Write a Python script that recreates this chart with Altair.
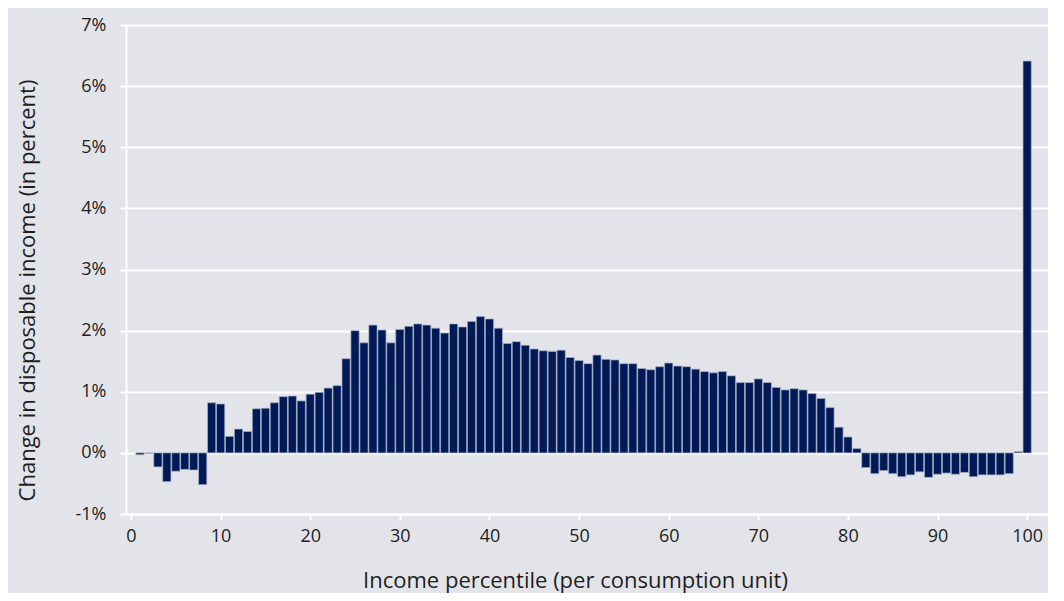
import altair as alt
import pandas as pd

percentiles = list(range(1, 101))
change_pct = [
    -0.03, -0.01, -0.23, -0.47, -0.30, -0.27, -0.28, -0.52, 0.82, 0.80,
    0.27, 0.39, 0.35, 0.72, 0.73, 0.82, 0.92, 0.93, 0.85, 0.96,
    0.99, 1.06, 1.10, 1.54, 2.00, 1.80, 2.09, 2.01, 1.80, 2.02,
    2.07, 2.11, 2.09, 2.04, 1.96, 2.11, 2.06, 2.15, 2.23, 2.19,
    2.04, 1.79, 1.82, 1.76, 1.70, 1.67, 1.66, 1.68, 1.56, 1.51,
    1.46, 1.60, 1.53, 1.52, 1.46, 1.46, 1.38, 1.36, 1.41, 1.47,
    1.42, 1.41, 1.37, 1.33, 1.31, 1.33, 1.26, 1.15, 1.15, 1.21,
    1.15, 1.07, 1.03, 1.05, 1.03, 0.97, 0.89, 0.74, 0.42, 0.26,
    0.07, -0.24, -0.34, -0.29, -0.34, -0.39, -0.36, -0.31, -0.40, -0.35,
    -0.33, -0.35, -0.32, -0.39, -0.36, -0.36, -0.36, -0.34, 0.02, 6.41,
]
x_ticks = [0, 10, 20, 30, 40, 50, 60, 70, 80, 90, 100]
y_ticks = [-1, 0, 1, 2, 3, 4, 5, 6, 7]

df = pd.DataFrame({"percentile": percentiles, "change": change_pct})

FONT = "Open Sans"
TEXT = "#1e1e1e"
BG = "#e3e4e9"

chart = (
    alt.Chart(df)
    .mark_bar(size=8.2, color="#001a57", stroke="#a9aec2", strokeWidth=0.7)
    .encode(
        x=alt.X(
            "percentile:Q",
            scale=alt.Scale(domain=[0, 101.77], nice=False, zero=False),
            axis=alt.Axis(
                values=x_ticks,
                title="Income percentile (per consumption unit)",
                grid=False,
                domainColor="white",
                domainWidth=2,
                tickColor="white",
                tickWidth=2,
                tickSize=6,
                labelPadding=7,
                labelFontSize=18,
                labelColor=TEXT,
                labelFont=FONT,
                titleFont=FONT,
                titleFontSize=22,
                titleFontWeight="normal",
                titleColor=TEXT,
                titleX=449,
                titleY=66,
                titleBaseline="middle",
                titleAlign="center",
            ),
        ),
        y=alt.Y(
            "change:Q",
            scale=alt.Scale(domain=[-1, 7], nice=False),
            axis=alt.Axis(
                values=y_ticks,
                labelExpr="datum.value + '%'",
                title="Change in disposable income (in percent)",
                grid=True,
                gridColor="white",
                gridWidth=2,
                domainColor="white",
                domainWidth=2,
                tickColor="white",
                tickWidth=2,
                tickSize=6,
                labelPadding=14,
                labelFontSize=18,
                labelColor=TEXT,
                labelFont=FONT,
                titleFont=FONT,
                titleFontSize=22,
                titleFontWeight="normal",
                titleColor=TEXT,
                titleX=-99,
                titleY=265,
                titleAngle=270,
                titleBaseline="middle",
                titleAlign="center",
            ),
        ),
        y2=alt.datum(0),
    )
    .properties(
        width=922,
        height=489,
        background=BG,
        autosize=alt.AutoSizeParams(type="none"),
        padding={"left": 118, "top": 17, "right": 0, "bottom": 79},
    )
    .configure_view(stroke=None, fill=BG)
)

chart.save("out.html", embed_options={"renderer": "svg", "actions": False})
